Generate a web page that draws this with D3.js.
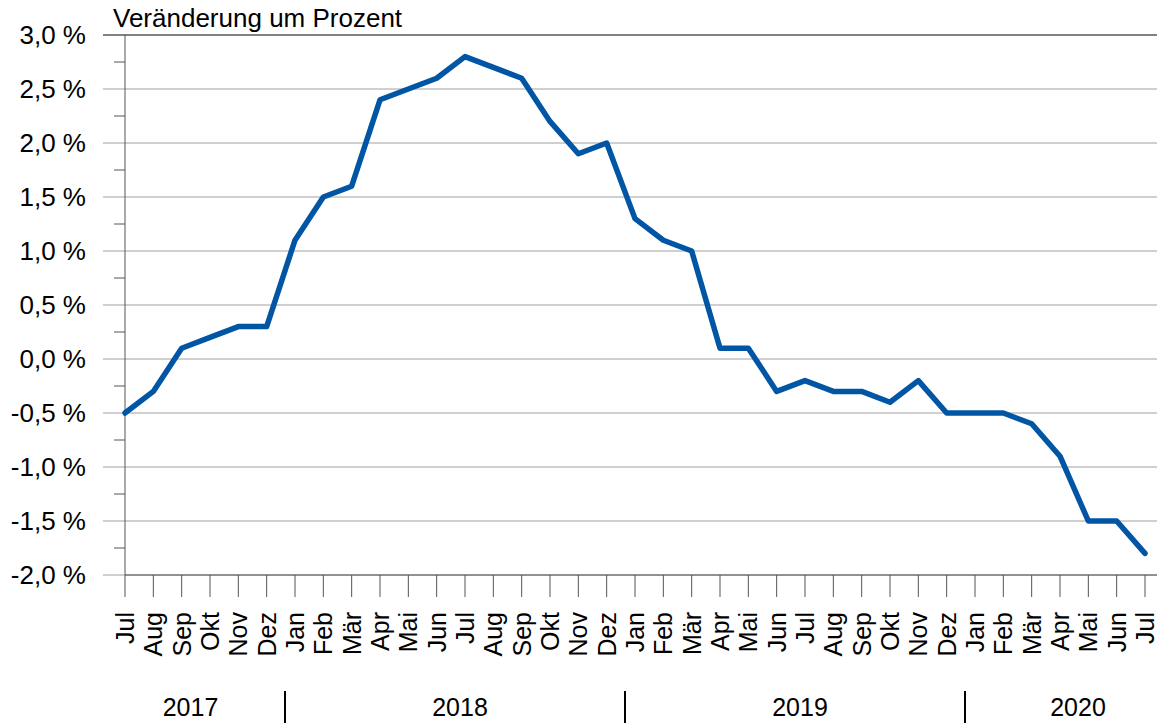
<!DOCTYPE html>
<html>
<head>
<meta charset="utf-8">
<script src="https://cdn.jsdelivr.net/npm/d3@7"></script>
<style>
  body { margin: 0; background: #fff; }
  svg { display: block; font-family: "Liberation Sans", Arial, sans-serif; }
</style>
</head>
<body>
<div id="chart"></div>
<script>
// Monthly change in percent, Jul 2017 - Jul 2020
const months = ['Jul','Aug','Sep','Okt','Nov','Dez',
  'Jan','Feb','Mär','Apr','Mai','Jun','Jul','Aug','Sep','Okt','Nov','Dez',
  'Jan','Feb','Mär','Apr','Mai','Jun','Jul','Aug','Sep','Okt','Nov','Dez',
  'Jan','Feb','Mär','Apr','Mai','Jun','Jul'];
const values = [-0.5, -0.3, 0.1, 0.2, 0.3, 0.3,
  1.1, 1.5, 1.6, 2.4, 2.5, 2.6, 2.8, 2.7, 2.6, 2.2, 1.9, 2.0,
  1.3, 1.1, 1.0, 0.1, 0.1, -0.3, -0.2, -0.3, -0.3, -0.4, -0.2, -0.5,
  -0.5, -0.5, -0.6, -0.9, -1.5, -1.5, -1.8];
const years = ['2017', '2018', '2019', '2020'];
const yearStart = [0, 6, 18, 30]; // index of first month in each year
const yTicks = [3.0, 2.5, 2.0, 1.5, 1.0, 0.5, 0.0, -0.5, -1.0, -1.5, -2.0];

const width = 1157, height = 723;
const plotLeft = 125, plotRight = 1145, plotTop = 35, plotBottom = 575;

const svg = d3.select('#chart').append('svg')
  .attr('width', width)
  .attr('height', height);

const x = d3.scaleLinear().domain([0, months.length - 1]).range([plotLeft, plotRight]);
const y = d3.scaleLinear().domain([-2, 3]).range([plotBottom, plotTop]);
const fmt = v => d3.format('.1f')(v).replace('.', ',').replace('−', '-') + ' %';

// gridlines
svg.append('g')
  .selectAll('line')
  .data(yTicks)
  .join('line')
  .attr('x1', 103).attr('x2', width)
  .attr('y1', d => y(d)).attr('y2', d => y(d))
  .attr('stroke', d => d === 3 ? '#808080' : '#a0a0a0')
  .attr('stroke-width', d => d === 3 ? 2 : 1);

// minor y ticks
svg.append('g')
  .selectAll('line')
  .data(d3.range(-1.75, 3, 0.5))
  .join('line')
  .attr('x1', 114).attr('x2', plotLeft)
  .attr('y1', d => y(d)).attr('y2', d => y(d))
  .attr('stroke', '#555');

// y axis line
svg.append('line')
  .attr('x1', plotLeft).attr('x2', plotLeft)
  .attr('y1', plotTop).attr('y2', plotBottom)
  .attr('stroke', '#555');

// y labels
svg.append('g')
  .selectAll('text')
  .data(yTicks)
  .join('text')
  .attr('x', 86)
  .attr('y', d => y(d))
  .attr('dy', '0.35em')
  .attr('text-anchor', 'end')
  .attr('font-size', 26)
  .text(fmt);

// x axis line + ticks
svg.append('line')
  .attr('x1', plotLeft).attr('x2', width)
  .attr('y1', plotBottom).attr('y2', plotBottom)
  .attr('stroke', '#555');

svg.append('g')
  .selectAll('line')
  .data(months)
  .join('line')
  .attr('x1', (d, i) => x(i)).attr('x2', (d, i) => x(i))
  .attr('y1', plotBottom).attr('y2', 597)
  .attr('stroke', '#555');

// month labels, rotated
svg.append('g')
  .selectAll('text')
  .data(months)
  .join('text')
  .attr('transform', (d, i) => `translate(${x(i)},612) rotate(-90)`)
  .attr('dy', '0.36em')
  .attr('text-anchor', 'end')
  .attr('font-size', 25)
  .text(d => d);

// year separators and labels
const sepX = yearStart.slice(1).map(d => x(d) - 10);
svg.append('g')
  .selectAll('line')
  .data(sepX)
  .join('line')
  .attr('x1', d => d).attr('x2', d => d)
  .attr('y1', 691).attr('y2', height)
  .attr('stroke', '#000')
  .attr('stroke-width', 2);

const bounds = [86, ...sepX, width + 24];
svg.append('g')
  .selectAll('text')
  .data(years)
  .join('text')
  .attr('x', (d, i) => (bounds[i] + bounds[i + 1]) / 2 + 5)
  .attr('y', 716)
  .attr('text-anchor', 'middle')
  .attr('font-size', 25)
  .text(d => d);

// data line
const line = d3.line()
  .x((d, i) => x(i))
  .y(d => y(d));

svg.append('path')
  .datum(values)
  .attr('d', line)
  .attr('fill', 'none')
  .attr('stroke', '#0055a4')
  .attr('stroke-width', 5.5)
  .attr('stroke-linejoin', 'round')
  .attr('stroke-linecap', 'round');

// title
svg.append('text')
  .attr('x', 113)
  .attr('y', 27)
  .attr('font-size', 26)
  .text('Veränderung um Prozent');
</script>
</body>
</html>
